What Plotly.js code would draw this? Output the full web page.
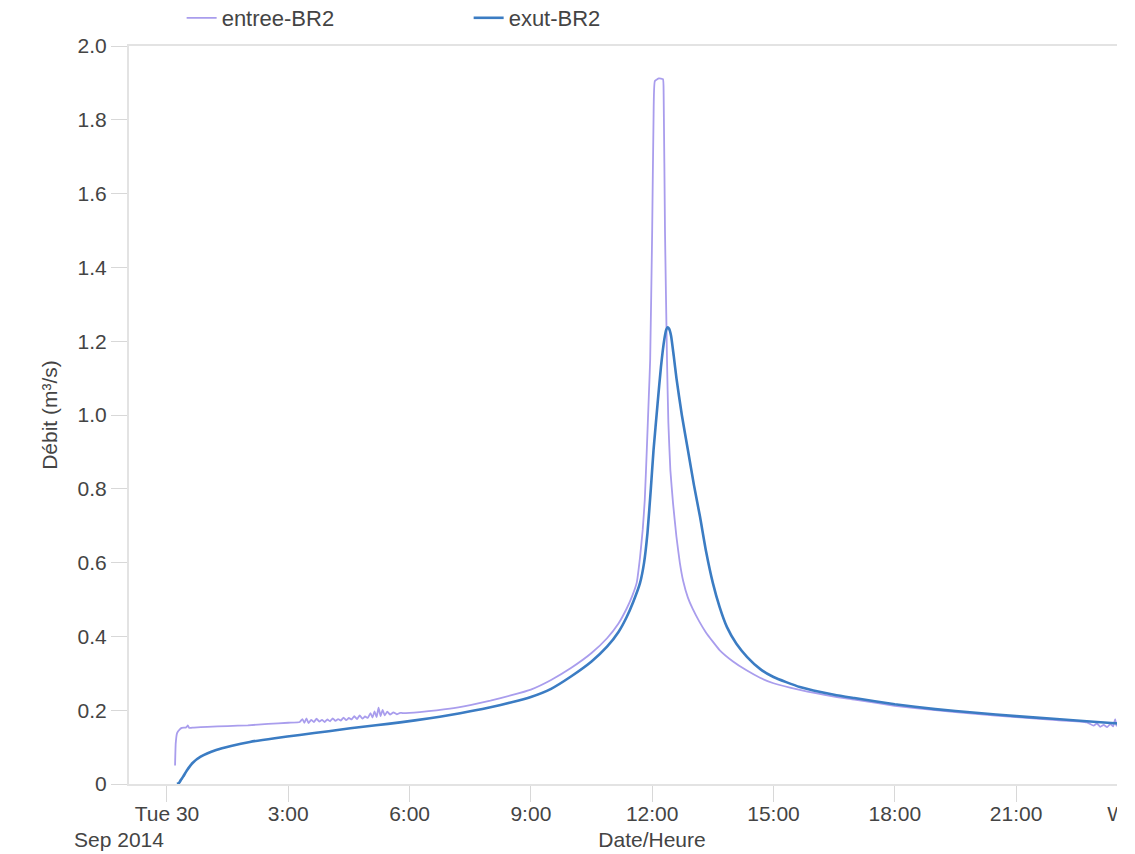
<!DOCTYPE html>
<html>
<head>
<meta charset="utf-8">
<script src="https://cdn.plot.ly/plotly-3.0.1.min.js"></script>
<style>
  html, body { margin: 0; padding: 0; background: #fff; overflow: hidden; width: 1135px; height: 854px; }
  #chart { position: absolute; left: 0; top: 0; }
  #crop { position: absolute; left: 1117px; top: 0; width: 40px; height: 854px; background: #fff; z-index: 10; }
</style>
</head>
<body>
<div id="chart"></div>
<div id="crop"></div>
<script>
// ---- data ----
const day = '2014-09-30 ';

const entreeTimes = ['00:12','00:13','00:15','00:19','00:22','00:28','00:30','00:31','00:33','00:40',
  '01:00','01:30','02:00','02:30','03:00','03:17',
  '03:21','03:24','03:27','03:30','03:34','03:38','03:42','03:46','03:50','03:54','03:58',
  '04:02','04:06','04:10','04:14','04:18','04:22','04:26','04:30','04:34','04:38','04:42','04:46','04:50','04:54','04:58',
  '05:02','05:05','05:08','05:11','05:14','05:17','05:20','05:23','05:27','05:31','05:36','05:41','05:46','05:50',
  '06:15','07:00','07:30','08:00','08:30','09:00','09:30','10:00','10:30','10:53','11:10','11:22','11:30','11:37','11:42','11:46','11:49','11:52','11:55','11:57',
  '12:00','12:02','12:04','12:10','12:16','12:17','12:19','12:22','12:24','12:27','12:31','12:36','12:41','12:46','12:53','13:00',
  '13:10','13:20','13:40','14:00','14:20','14:40','15:00','15:39','16:30','17:00','18:00','19:00','20:00','21:00','22:00','22:45','22:55',
  '23:00','23:05','23:10','23:15','23:20','23:24','23:27','23:29','23:32'];
const entreeValues = [0.05,0.11,0.138,0.148,0.152,0.153,0.156,0.159,0.152,0.153,
  0.155,0.157,0.159,0.163,0.166,0.168,
  0.176,0.166,0.178,0.165,0.174,0.168,0.177,0.169,0.174,0.168,0.175,
  0.170,0.178,0.171,0.176,0.172,0.180,0.173,0.179,0.175,0.184,0.176,0.186,0.177,0.183,0.179,
  0.192,0.180,0.197,0.181,0.207,0.184,0.201,0.186,0.196,0.188,0.194,0.189,0.193,0.192,
  0.195,0.204,0.214,0.226,0.240,0.256,0.282,0.315,0.355,0.395,0.435,0.475,0.508,0.545,0.615,0.690,0.770,0.905,1.050,1.149,
  1.500,1.800,1.905,1.912,1.910,1.870,1.500,1.149,0.980,0.850,0.760,0.670,0.600,0.550,0.505,0.475,
  0.440,0.410,0.363,0.332,0.308,0.288,0.273,0.255,0.237,0.229,0.212,0.200,0.190,0.181,0.173,0.167,0.158,
  0.164,0.155,0.160,0.154,0.163,0.156,0.176,0.158,0.161];

const exutTimes = ['00:15','00:18','00:21','00:24','00:30','00:38','00:50','01:13','01:35','02:03','02:40','03:17',
  '04:00','04:32','05:10','05:46','06:30','07:00','07:30','08:00','08:30','09:00','09:30','10:00','10:30','10:53',
  '11:10','11:22','11:32','11:42','11:48','11:53','11:58','12:02','12:08','12:13','12:18','12:21','12:23','12:25','12:28',
  '12:32','12:36','12:44','12:53','13:02','13:11','13:20','13:30','13:40','13:51','14:05','14:21','14:40','15:00','15:39',
  '16:30','17:00','18:00','19:00','20:00','21:00','22:00','23:00','23:32'];
const exutValues = [0,0.003,0.012,0.020,0.038,0.057,0.074,0.092,0.103,0.114,0.124,0.133,
  0.143,0.151,0.159,0.167,0.178,0.187,0.197,0.208,0.221,0.236,0.258,0.292,0.332,0.372,
  0.412,0.452,0.494,0.545,0.600,0.680,0.800,0.905,1.030,1.130,1.205,1.232,1.238,1.234,1.215,
  1.160,1.100,1.000,0.905,0.810,0.724,0.630,0.545,0.480,0.425,0.380,0.344,0.312,0.290,0.263,
  0.242,0.233,0.216,0.203,0.193,0.184,0.176,0.168,0.164];

const xTickVals = ['2014-09-30 00:00','2014-09-30 03:00','2014-09-30 06:00','2014-09-30 09:00','2014-09-30 12:00',
  '2014-09-30 15:00','2014-09-30 18:00','2014-09-30 21:00','2014-10-01 00:00'];
const xTickText = ['Tue 30','3:00','6:00','9:00','12:00','15:00','18:00','21:00','Wed 1'];
const yTickVals = [0,0.2,0.4,0.6,0.8,1.0,1.2,1.4,1.6,1.8,2.0];
const yTickText = ['0','0.2','0.4','0.6','0.8','1.0','1.2','1.4','1.6','1.8','2.0'];

const seriesNames = ['entree-BR2','exut-BR2'];

// ---- chart ----
const font = 'Liberation Sans, Arial, Helvetica, sans-serif';
const txt = '#444';

const traces = [
  {x: entreeTimes.map(t => day + t), y: entreeValues, name: seriesNames[0], type: 'scatter', mode: 'lines',
   line: {color: '#a99ded', width: 1.8, shape: 'spline', smoothing: 0.4}},
  {x: exutTimes.map(t => day + t), y: exutValues, name: seriesNames[1], type: 'scatter', mode: 'lines',
   line: {color: '#3b7cc3', width: 2.6, shape: 'spline', smoothing: 0.5}}
];

const layout = {
  width: 1195, height: 854,
  margin: {l: 129, r: 20, t: 46, b: 70},
  paper_bgcolor: '#fff', plot_bgcolor: '#fff',
  font: {family: font, size: 21, color: txt},
  showlegend: true,
  legend: {orientation: 'h', xref: 'container', yref: 'container', x: 0.152, y: 1 - 18/854,
           xanchor: 'left', yanchor: 'middle', entrywidth: 242, font: {size: 22, color: txt},
           bgcolor: 'rgba(0,0,0,0)'},
  xaxis: {
    type: 'date',
    range: ['2014-09-29 23:03:40', '2014-10-01 00:55:48'],
    tickmode: 'array', tickvals: xTickVals, ticktext: xTickText,
    ticks: 'outside', ticklen: 16, tickcolor: '#d8d8d8', tickwidth: 1,
    ticklabelstandoff: -6,
    showgrid: false, zeroline: false,
    showline: true, linecolor: '#e3e3e3', linewidth: 2, mirror: true,
    tickfont: {size: 21, color: txt},
    title: {text: 'Date/Heure', font: {size: 21, color: txt}, standoff: 8},
    automargin: false
  },
  yaxis: {
    range: [0, 2],
    tickmode: 'array', tickvals: yTickVals, ticktext: yTickText,
    ticks: 'outside', ticklen: 16, tickcolor: '#d8d8d8', tickwidth: 1,
    showgrid: false, zeroline: false,
    showline: true, linecolor: '#e3e3e3', linewidth: 2,
    tickfont: {size: 21, color: txt},
    title: {text: 'Débit (m³/s)', font: {size: 21, color: txt}, standoff: 14},
    automargin: false
  },
  yaxis2: {
    overlaying: 'y', anchor: 'x', side: 'left', range: [0, 2],
    tickmode: 'array', tickvals: yTickVals, ticks: 'inside', ticklen: 9,
    tickcolor: '#d8d8d8', tickwidth: 1, showticklabels: false,
    showgrid: false, zeroline: false, showline: false
  },
  annotations: [
    {text: 'Sep 2014', xref: 'x', yref: 'paper', x: xTickVals[0], y: 0,
     xanchor: 'right', yanchor: 'top', xshift: -1, yshift: -42, showarrow: false,
     font: {size: 21, color: txt}}
  ]
};

Plotly.newPlot('chart', traces, layout, {displayModeBar: false, staticPlot: true});
</script>
</body>
</html>
